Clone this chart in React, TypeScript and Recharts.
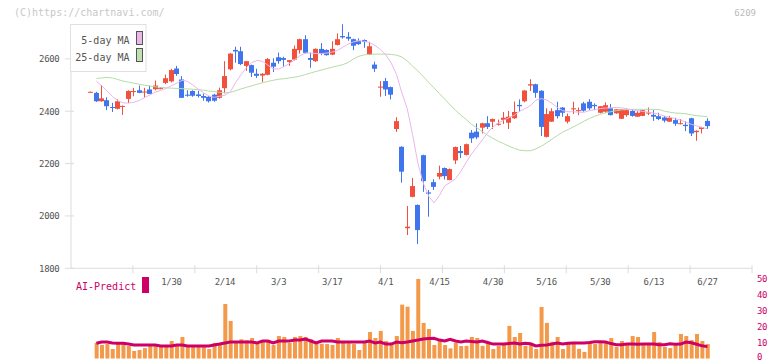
import React from 'react'
import { ComposedChart, Bar, Line, XAxis, YAxis } from 'recharts'

const dates = [
  '1/8', '1/9', '1/10', '1/14', '1/15', '1/16', '1/17', '1/20', '1/21', '1/22', '1/23', '1/24', '1/27', '1/28', '1/29', '1/30', '1/31',
  '2/3', '2/4', '2/5', '2/6', '2/7', '2/10', '2/12', '2/13', '2/14', '2/17', '2/18', '2/19', '2/20', '2/21', '2/25', '2/26', '2/27', '2/28',
  '3/3', '3/4', '3/5', '3/6', '3/7', '3/10', '3/11', '3/12', '3/13', '3/14', '3/17', '3/18', '3/19', '3/21', '3/24', '3/25', '3/26', '3/27', '3/28', '3/31',
  '4/1', '4/2', '4/3', '4/4', '4/7', '4/8', '4/9', '4/10', '4/11', '4/14', '4/15', '4/16', '4/17', '4/18', '4/21', '4/22', '4/23', '4/24', '4/25', '4/28', '4/30',
  '5/1', '5/2', '5/7', '5/8', '5/9', '5/12', '5/13', '5/14', '5/15', '5/16', '5/19', '5/20', '5/21', '5/22', '5/23', '5/26', '5/27', '5/28', '5/29', '5/30',
  '6/2', '6/3', '6/4', '6/5', '6/6', '6/9', '6/10', '6/11', '6/12', '6/13', '6/16', '6/17', '6/18', '6/19', '6/20', '6/23', '6/24', '6/25', '6/26', '6/27',
]

const opens = [
  2472, 2470, 2438, 2442, 2416, 2409, 2418, 2447, 2474, 2480,
  2472, 2483, 2484, 2486, 2508, 2514, 2563, 2521, 2463, 2477,
  2464, 2458, 2455, 2463, 2451, 2488, 2560, 2634, 2629, 2573,
  2576, 2543, 2536, 2539, 2585, 2606, 2603, 2588, 2597, 2633,
  2675, 2603, 2591, 2638, 2634, 2616, 2653, 2687, 2684, 2675,
  2669, 2672, 2615, 2578, 2490, 2515, 2492, 2332, 2264, 1953,
  2073, 2042, 2232, 2090, 2129, 2150, 2183, 2137, 2212, 2248,
  2233, 2318, 2322, 2337, 2354, 2360, 2348, 2367, 2356, 2373,
  2424, 2438, 2498, 2503, 2478, 2302, 2360, 2404, 2414, 2360,
  2407, 2400, 2430, 2436, 2424, 2394, 2398, 2411, 2392, 2371,
  2385, 2401, 2379, 2382, 2391, 2386, 2381, 2376, 2360, 2366,
  2351, 2348, 2373, 2320, 2332, 2363,
]

const highs = [
  2475, 2474, 2500, 2453, 2432, 2445, 2422, 2480, 2489, 2498,
  2489, 2498, 2517, 2492, 2540, 2562, 2573, 2534, 2480, 2480,
  2478, 2468, 2458, 2466, 2490, 2591, 2622, 2646, 2646, 2592,
  2578, 2562, 2545, 2603, 2602, 2624, 2608, 2596, 2651, 2677,
  2690, 2624, 2640, 2660, 2636, 2667, 2697, 2732, 2702, 2677,
  2678, 2674, 2665, 2589, 2515, 2527, 2494, 2377, 2266, 2038,
  2145, 2044, 2234, 2099, 2140, 2192, 2185, 2181, 2265, 2267,
  2276, 2328, 2353, 2356, 2381, 2372, 2368, 2397, 2401, 2437,
  2445, 2480, 2522, 2505, 2480, 2411, 2411, 2436, 2416, 2391,
  2436, 2414, 2436, 2446, 2430, 2420, 2434, 2428, 2408, 2408,
  2411, 2408, 2400, 2405, 2414, 2404, 2394, 2382, 2382, 2375,
  2370, 2362, 2375, 2327, 2340, 2373,
]

const lows = [
  2471, 2435, 2436, 2404, 2397, 2407, 2386, 2431, 2457, 2469,
  2451, 2465, 2480, 2484, 2503, 2510, 2535, 2450, 2455, 2455,
  2452, 2440, 2433, 2436, 2448, 2468, 2556, 2585, 2576, 2554,
  2531, 2527, 2511, 2537, 2550, 2581, 2570, 2573, 2594, 2620,
  2620, 2566, 2588, 2614, 2612, 2614, 2651, 2677, 2669, 2633,
  2653, 2642, 2614, 2550, 2455, 2458, 2445, 2321, 2127, 1927,
  2071, 1893, 2092, 1997, 2099, 2140, 2139, 2136, 2198, 2221,
  2231, 2279, 2293, 2315, 2332, 2332, 2345, 2351, 2332, 2371,
  2398, 2434, 2477, 2451, 2305, 2300, 2359, 2372, 2379, 2353,
  2389, 2385, 2398, 2404, 2404, 2392, 2394, 2384, 2390, 2370,
  2379, 2379, 2378, 2381, 2385, 2363, 2366, 2357, 2359, 2344,
  2350, 2324, 2305, 2287, 2315, 2332,
]

const closes = [
  2474, 2438, 2449, 2419, 2413, 2438, 2420, 2477, 2477, 2470,
  2475, 2466, 2498, 2488, 2526, 2557, 2542, 2451, 2459, 2459,
  2458, 2451, 2438, 2440, 2480, 2534, 2620, 2628, 2580, 2591,
  2547, 2535, 2543, 2599, 2570, 2591, 2596, 2595, 2638, 2675,
  2623, 2596, 2638, 2620, 2614, 2638, 2675, 2682, 2677, 2650,
  2656, 2664, 2648, 2562, 2494, 2483, 2463, 2362, 2169, 1959,
  2114, 1946, 2133, 2085, 2111, 2164, 2152, 2179, 2263, 2240,
  2274, 2296, 2300, 2354, 2340, 2370, 2352, 2375, 2379, 2397,
  2419, 2479, 2503, 2470, 2340, 2389, 2400, 2381, 2394, 2381,
  2411, 2404, 2402, 2411, 2419, 2419, 2423, 2385, 2407, 2407,
  2404, 2382, 2394, 2404, 2395, 2379, 2370, 2364, 2375, 2352,
  2354, 2343, 2315, 2325, 2339, 2343,
]

const ma5 = [
  null, 2515, 2497, 2477, 2456, 2440, 2432, 2431, 2434, 2441, 2452,
  2462, 2473, 2479, 2487, 2497, 2507, 2518, 2514, 2500, 2484,
  2470, 2458, 2453, 2457, 2461, 2474, 2510, 2540, 2566, 2586,
  2594, 2590, 2576, 2562, 2561, 2570, 2582, 2597, 2612, 2622,
  2622, 2620, 2620, 2622, 2626, 2632, 2645, 2656, 2665, 2669,
  2667, 2662, 2651, 2635, 2615, 2584, 2540, 2470, 2410, 2310,
  2200, 2125, 2075, 2050, 2078, 2115, 2128, 2142, 2170, 2205,
  2237, 2263, 2290, 2318, 2340, 2355, 2366, 2375, 2385, 2400,
  2410, 2422, 2442, 2448, 2443, 2430, 2414, 2402, 2398, 2398,
  2396, 2396, 2402, 2406, 2410, 2412, 2413, 2414, 2413, 2409,
  2405, 2402, 2399, 2396, 2393, 2388, 2381, 2376, 2372, 2366,
  2358, 2350, 2344, 2338, 2333,
]

const ma25 = [
  null, 2525, 2527, 2529, 2527, 2521, 2515, 2511, 2507, 2503, 2499,
  2496, 2493, 2491, 2489, 2488, 2487, 2486, 2485, 2484, 2482,
  2480, 2477, 2475, 2472, 2470, 2472, 2478, 2485, 2491, 2497,
  2503, 2508, 2514, 2518, 2522, 2524, 2527, 2530, 2534, 2540,
  2546, 2552, 2557, 2563, 2568, 2573, 2578, 2586, 2600, 2610,
  2615, 2617, 2618, 2618, 2618, 2617, 2614, 2607, 2592, 2572,
  2553, 2532, 2510, 2489, 2467, 2446, 2424, 2404, 2385, 2368,
  2350, 2336, 2322, 2308, 2296, 2285, 2276, 2266, 2258, 2251,
  2249, 2249, 2256, 2266, 2279, 2293, 2307, 2320, 2330, 2340,
  2351, 2362, 2372, 2381, 2388, 2394, 2398, 2402, 2405, 2407,
  2407, 2407, 2407, 2407, 2407, 2406, 2400, 2396, 2393, 2392,
  2390, 2386, 2383, 2381, 2379,
]

const volumes = [
  null, 9.7, 8.4, 9.0, 5.9, 10.3, 9.0, 7.8, 4.7, 5.3, 6.5,
  8.4, 8.4, 7.8, 8.4, 10.9, 7.8, 13.4, 7.8, 7.8, 7.8,
  7.8, 5.9, 9.7, 9.0, 34.0, 23.4, 9.7, 12.0, 11.3, 12.8,
  9.0, 11.3, 11.0, 8.4, 14.0, 13.4, 9.7, 13.4, 14.0, 13.4,
  12.0, 9.7, 9.2, 9.0, 8.4, 12.8, 10.5, 9.5, 9.0, 5.3,
  9.7, 16.5, 12.8, 17.2, 10.9, 8.5, 14.0, 33.6, 32.3, 17.2,
  49.6, 22.2, 18.4, 8.4, 11.5, 8.4, 6.3, 9.8, 7.8, 7.9,
  13.4, 12.8, 7.9, 9.8, 5.9, 7.8, 8.9, 20.3, 13.4, 15.9,
  7.9, 8.4, 5.9, 32.1, 22.2, 10.4, 13.4, 5.9, 9.5, 9.0,
  6.0, 4.1, 10.3, 9.0, 10.3, 10.3, 12.8, 7.2, 10.9, 8.4,
  14.0, 13.4, 8.4, 8.4, 16.5, 10.3, 7.2, 6.5, 9.0, 15.3,
  14.0, 11.5, 15.3, 10.9, 9.0,
]

const aiPredict = [
  null, 9.5, 10.3, 10.3, 9.7, 9.5, 9.5, 9.0, 8.4, 8.4, 8.4,
  8.4, 8.4, 7.8, 7.8, 7.8, 8.4, 8.4, 7.8, 7.8, 7.8,
  7.8, 7.8, 8.4, 9.0, 9.7, 10.3, 10.3, 10.3, 10.3, 10.3,
  9.7, 10.9, 10.9, 9.7, 10.9, 10.9, 10.9, 11.5, 11.5, 12.1,
  10.9, 9.7, 10.9, 10.9, 10.9, 10.3, 10.3, 10.3, 10.3, 10.3,
  10.3, 10.9, 9.7, 10.3, 9.0, 9.0, 10.3, 9.9, 10.3, 10.9,
  11.5, 12.2, 12.4, 12.6, 11.5, 10.9, 12.0, 10.9, 10.3, 10.9,
  10.6, 10.3, 10.9, 10.0, 9.0, 9.0, 9.0, 9.4, 9.7, 9.0,
  9.5, 9.2, 7.8, 8.2, 8.4, 9.0, 9.7, 9.0, 9.5, 9.7,
  9.7, 9.7, 10.0, 10.5, 10.5, 10.3, 9.3, 8.6, 8.6, 9.0,
  9.0, 8.9, 9.0, 9.0, 9.0, 8.6, 8.6, 9.2, 8.9, 9.0,
  10.3, 9.8, 8.9, 7.9, 7.4,
]

const dateTicks = ['1/30', '2/14', '3/3', '3/17', '4/1', '4/15', '4/30', '5/16', '5/30', '6/13', '6/27']
const priceTicks = [1800, 2000, 2200, 2400, 2600]
const volumeTicks = [0, 10, 20, 30, 40, 50]
// the bottom axis is cut into 11 equal parts, independent of the dates
const gridTicks = [1, 2, 3, 4, 5, 6, 7, 8, 9, 10, 11]

const UP = '#f0503c'
const DOWN = '#3f76ee'
const AXIS = '#dcdcdc'
const MONO = '"DejaVu Sans Mono", monospace'
const AI_COLOR = '#cc0066'

const data = dates.map((date, i) => ({
  date,
  open: opens[i],
  high: highs[i],
  low: lows[i],
  close: closes[i],
  range: [lows[i], highs[i]],
  ma5: ma5[i],
  ma25: ma25[i],
  vol: volumes[i],
  ai: aiPredict[i],
}))

const gridData = gridTicks.map((k) => ({ k }))

const xPadding = { left: 17.3, right: 41.9 }

function Candle(props: any) {
  const { x, y, width, height, payload } = props
  const { open, close, high, low } = payload
  const top = Math.min(y, y + height)
  const h = Math.abs(height)
  const k = high === low ? 0 : h / (high - low)
  const py = (p: number) => top + (high - p) * k
  const color = close >= open ? UP : DOWN
  const cx = Math.floor(x + width / 2) + 0.5
  const bodyTop = py(Math.max(open, close))
  const bodyH = Math.max(1, Math.abs(py(open) - py(close)))
  return (
    <g>
      <line x1={cx} x2={cx} y1={top} y2={top + h} stroke={color} strokeWidth={1} />
      <rect x={Math.round(x)} y={bodyTop} width={width} height={bodyH} fill={color} />
    </g>
  )
}

function PriceTick({ x, y, payload }: any) {
  return (
    <g>
      <line x1={x + 5.5} x2={x + 14.5} y1={y} y2={y} stroke={AXIS} />
      <text x={x} y={y} dy={3.5} textAnchor="end" fontSize={9} fontFamily={MONO} fill="#555" letterSpacing={-0.3}>
        {payload.value}
      </text>
    </g>
  )
}

function DateTick({ x, y, payload }: any) {
  return (
    <text x={x} y={y} dy={3.5} textAnchor="middle" fontSize={9} fontFamily={MONO} fill="#555" letterSpacing={-0.3}>
      {payload.value}
    </text>
  )
}

function GridTick({ x, y }: any) {
  return <line x1={x} x2={x} y1={y - 3} y2={y + 5} stroke={AXIS} />
}

function VolTick({ x, y, payload }: any) {
  return (
    <text x={x} y={y} dy={payload.value === 0 ? 1.5 : 3.2} textAnchor="start" fontSize={9} fontFamily={MONO} fill={AI_COLOR} letterSpacing={-0.3}>
      {payload.value}
    </text>
  )
}

function Overlay() {
  return (
    <svg width={772} height={361} style={{ position: 'absolute', left: 0, top: 0, pointerEvents: 'none' }}>
      <text x={14} y={16} fontSize={10} fontFamily={MONO} fill="#c8c8c8">(C)https://chartnavi.com/</text>
      <text x={756} y={16} textAnchor="end" fontSize={9} fontFamily={MONO} fill="#bbb">6209</text>
      <rect x={70.5} y={24.5} width={75.5} height={47} fill="#fff" stroke="#e0e0e0" />
      <text x={129.5} y={43.5} textAnchor="end" fontSize={10} fontFamily={MONO} fill="#555">5-day MA</text>
      <text x={129.5} y={60.5} textAnchor="end" fontSize={10} fontFamily={MONO} fill="#555">25-day MA</text>
      <rect x={136.5} y={31.5} width={6} height={13} fill="#e9b8ea" stroke="#555" />
      <rect x={136.5} y={48.5} width={6} height={13} fill="#bfe0b0" stroke="#555" />
      <text x={76} y={289.5} fontSize={10} fontFamily={MONO} fill={AI_COLOR}>AI-Predict</text>
      <rect x={142} y={277} width={7} height={16} fill={AI_COLOR} />
    </svg>
  )
}

const layer = { position: 'absolute' as const, left: 0, top: 0 }

export default function App() {
  return (
    <div style={{ position: 'relative', width: 772, height: 361, background: '#fff' }}>
      <style>{'body{margin:0}'}</style>
      <div style={layer}>
        <ComposedChart width={772} height={361} data={gridData} margin={{ top: 24, right: 20, bottom: 91.7, left: 71 }}>
          <XAxis
            dataKey="k"
            type="number"
            domain={[0, 11]}
            ticks={gridTicks}
            allowDataOverflow
            interval={0}
            height={1}
            axisLine={{ stroke: AXIS }}
            tickLine={false}
            tickSize={0}
            tickMargin={0}
            tick={<GridTick />}
          />
          <YAxis hide domain={[0, 1]} />
        </ComposedChart>
      </div>
      <div style={layer}>
        <ComposedChart width={772} height={361} data={data} margin={{ top: 24, right: 20, bottom: 91.7, left: 11 }}>
          <XAxis
            dataKey="date"
            ticks={dateTicks}
            interval={0}
            height={1}
            padding={xPadding}
            axisLine={false}
            tickLine={false}
            tickSize={0}
            tickMargin={13}
            tick={<DateTick />}
          />
          <YAxis
            yAxisId="price"
            domain={[1800, 2733]}
            ticks={priceTicks}
            allowDataOverflow
            width={60}
            interval={0}
            axisLine={{ stroke: AXIS }}
            tickLine={false}
            tickSize={0}
            tickMargin={11.5}
            tick={<PriceTick />}
          />
          <Line yAxisId="price" dataKey="ma25" stroke="#b5dba5" strokeWidth={1} dot={false} isAnimationActive={false} />
          <Line yAxisId="price" dataKey="ma5" stroke="#eab6ea" strokeWidth={1} dot={false} isAnimationActive={false} />
          <Bar
            yAxisId="price"
            dataKey="range"
            barSize={5}
            isAnimationActive={false}
            shape={(p: any) => <Candle {...p} />}
          />
        </ComposedChart>
      </div>
      <div style={layer}>
        <ComposedChart width={772} height={361} data={data} margin={{ top: 278.3, right: 0, bottom: 2.5, left: 71 }}>
          <XAxis dataKey="date" hide padding={xPadding} />
          <YAxis
            yAxisId="vol"
            orientation="right"
            domain={[0, 50]}
            ticks={volumeTicks}
            interval={0}
            width={20}
            axisLine={false}
            tickLine={false}
            tickSize={0}
            tickMargin={5}
            tick={<VolTick />}
          />
          <Bar yAxisId="vol" dataKey="vol" fill="#f2994a" barSize={4} isAnimationActive={false} />
          <Line yAxisId="vol" dataKey="ai" stroke={AI_COLOR} strokeWidth={3} dot={false} isAnimationActive={false} />
        </ComposedChart>
      </div>
      <Overlay />
    </div>
  )
}
